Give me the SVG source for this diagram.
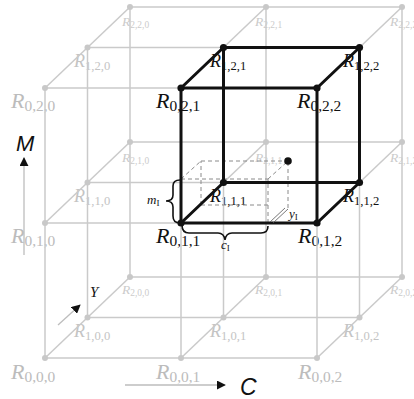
<svg xmlns="http://www.w3.org/2000/svg" width="414" height="399" viewBox="0 0 414 399">
<style>
text{font-family:"Liberation Serif","Times New Roman",serif;font-style:italic}
tspan.s{font-style:normal;font-size:0.7em}
.L0{font-size:22px}.L1{font-size:18px}.L2{font-size:13.5px}
.g0{fill:#bcbcbc}.g1{fill:#c4c4c4}.g2{fill:#cbcbcb}.k{fill:#111}
.grid line{stroke:#cacaca;stroke-width:1.5}
.gd{fill:#c8c8c8}
.blk line{stroke:#111;stroke-width:3;stroke-linecap:round}
.bd{fill:#111}
.dash line{stroke:#8a8a8a;stroke-width:1;stroke-dasharray:4 3}
.brace{fill:none;stroke:#111;stroke-width:1.6}
.ax{stroke:#bdbdbd;stroke-width:1.3}
.sans{font-family:"Liberation Sans",Arial,sans-serif}
</style>
<defs>
<marker id="ah" viewBox="0 0 10 10" refX="9" refY="5" markerWidth="9" markerHeight="9" markerUnits="userSpaceOnUse" orient="auto"><path d="M0,0 L10,5 L0,10 z" fill="#111"/></marker>
</defs>

<!-- labels -->
<g id="labels">
<g id="n000"><text class="L0 g0" x="11" y="379">R<tspan class="s" dy="3">0,0,0</tspan></text></g>
<g id="n001"><text class="L0 g0" x="156" y="379">R<tspan class="s" dy="3">0,0,1</tspan></text></g>
<g id="n002"><text class="L0 g0" x="298" y="379">R<tspan class="s" dy="3">0,0,2</tspan></text></g>
<g id="n010"><text class="L0 g0" x="11" y="243">R<tspan class="s" dy="3">0,1,0</tspan></text></g>
<g id="n011"><text class="L0 k" x="156" y="243">R<tspan class="s" dy="3">0,1,1</tspan></text></g>
<g id="n012"><text class="L0 k" x="298" y="243">R<tspan class="s" dy="3">0,1,2</tspan></text></g>
<g id="n020"><text class="L0 g0" x="11" y="108">R<tspan class="s" dy="3">0,2,0</tspan></text></g>
<g id="n021"><text class="L0 k" x="156" y="108">R<tspan class="s" dy="3">0,2,1</tspan></text></g>
<g id="n022"><text class="L0 k" x="297" y="108">R<tspan class="s" dy="3">0,2,2</tspan></text></g>

<g id="n100"><text class="L1 g1" x="74" y="337">R<tspan class="s" dy="2.5">1,0,0</tspan></text></g>
<g id="n101"><text class="L1 g1" x="210" y="337">R<tspan class="s" dy="2.5">1,0,1</tspan></text></g>
<g id="n102"><text class="L1 g1" x="343" y="337">R<tspan class="s" dy="2.5">1,0,2</tspan></text></g>
<g id="n110"><text class="L1 g1" x="74" y="202">R<tspan class="s" dy="2.5">1,1,0</tspan></text></g>
<g id="n111"><text class="L1 k" x="210" y="202">R<tspan class="s" dy="2.5">1,1,1</tspan></text></g>
<g id="n112"><text class="L1 k" x="343" y="202">R<tspan class="s" dy="2.5">1,1,2</tspan></text></g>
<g id="n120"><text class="L1 g1" x="74" y="67">R<tspan class="s" dy="2.5">1,2,0</tspan></text></g>
<g id="n121"><text class="L1 k" x="210" y="67">R<tspan class="s" dy="2.5">1,2,1</tspan></text></g>
<g id="n122"><text class="L1 k" x="343" y="67">R<tspan class="s" dy="2.5">1,2,2</tspan></text></g>

<g id="n200"><text class="L2 g2" x="122" y="294">R<tspan class="s" dy="2">2,0,0</tspan></text></g>
<g id="n201"><text class="L2 g2" x="255" y="294">R<tspan class="s" dy="2">2,0,1</tspan></text></g>
<g id="n202"><text class="L2 g2" x="390" y="294">R<tspan class="s" dy="2">2,0,2</tspan></text></g>
<g id="n210"><text class="L2 g2" x="122" y="162">R<tspan class="s" dy="2">2,1,0</tspan></text></g>
<g id="n211"><text class="L2 g2" x="255" y="162">R<tspan class="s" dy="2">2,1,1</tspan></text></g>
<g id="n212"><text class="L2 g2" x="390" y="162">R<tspan class="s" dy="2">2,1,2</tspan></text></g>
<g id="n220"><text class="L2 g2" x="122" y="26">R<tspan class="s" dy="2">2,2,0</tspan></text></g>
<g id="n221"><text class="L2 g2" x="255" y="26">R<tspan class="s" dy="2">2,2,1</tspan></text></g>
<g id="n222"><text class="L2 g2" x="390" y="26">R<tspan class="s" dy="2">2,2,2</tspan></text></g>
</g>

<!-- gray grid -->
<g id="connectors">
<g class="grid">
<line x1="45" y1="358" x2="317" y2="358"/><line x1="45" y1="223" x2="317" y2="223"/><line x1="45" y1="88" x2="317" y2="88"/>
<line x1="87.5" y1="317.5" x2="359.5" y2="317.5"/><line x1="87.5" y1="182.5" x2="359.5" y2="182.5"/><line x1="87.5" y1="47.5" x2="359.5" y2="47.5"/>
<line x1="130" y1="277" x2="402" y2="277"/><line x1="130" y1="142" x2="402" y2="142"/><line x1="130" y1="7" x2="402" y2="7"/>
<line x1="45" y1="88" x2="45" y2="358"/><line x1="181" y1="88" x2="181" y2="358"/><line x1="317" y1="88" x2="317" y2="358"/>
<line x1="87.5" y1="47.5" x2="87.5" y2="317.5"/><line x1="223.5" y1="47.5" x2="223.5" y2="317.5"/><line x1="359.5" y1="47.5" x2="359.5" y2="317.5"/>
<line x1="130" y1="7" x2="130" y2="277"/><line x1="266" y1="7" x2="266" y2="277"/><line x1="402" y1="7" x2="402" y2="277"/>
<line x1="45" y1="358" x2="130" y2="277"/><line x1="181" y1="358" x2="266" y2="277"/><line x1="317" y1="358" x2="402" y2="277"/>
<line x1="45" y1="223" x2="130" y2="142"/><line x1="181" y1="223" x2="266" y2="142"/><line x1="317" y1="223" x2="402" y2="142"/>
<line x1="45" y1="88" x2="130" y2="7"/><line x1="181" y1="88" x2="266" y2="7"/><line x1="317" y1="88" x2="402" y2="7"/>
</g>
<g class="gd">
<circle cx="45" cy="358" r="3"/><circle cx="181" cy="358" r="3"/><circle cx="317" cy="358" r="3"/>
<circle cx="45" cy="223" r="3"/><circle cx="45" cy="88" r="3"/>
<circle cx="87.5" cy="317.5" r="3"/><circle cx="223.5" cy="317.5" r="3"/><circle cx="359.5" cy="317.5" r="3"/>
<circle cx="87.5" cy="182.5" r="3"/><circle cx="87.5" cy="47.5" r="3"/>
<circle cx="130" cy="277" r="3"/><circle cx="266" cy="277" r="3"/><circle cx="402" cy="277" r="3"/>
<circle cx="130" cy="142" r="3"/><circle cx="266" cy="142" r="3"/><circle cx="402" cy="142" r="3"/>
<circle cx="130" cy="7" r="3"/><circle cx="266" cy="7" r="3"/><circle cx="402" cy="7" r="3"/>
</g>

<!-- dashed inner box -->
<g class="dash">
<line x1="181" y1="179" x2="268" y2="179"/>
<line x1="201" y1="161" x2="288" y2="161"/>
<line x1="181" y1="179" x2="201" y2="161"/>
<line x1="268" y1="179" x2="288" y2="161"/>
<line x1="268" y1="223" x2="268" y2="179"/>
<line x1="288" y1="208" x2="288" y2="161"/>
<line x1="201" y1="205" x2="270" y2="205"/>
<line x1="201" y1="205" x2="201" y2="161"/>
</g>

<!-- black cube -->
<g class="blk">
<line x1="181" y1="223" x2="317" y2="223"/><line x1="181" y1="88" x2="317" y2="88"/>
<line x1="223.5" y1="182.5" x2="359.5" y2="182.5"/><line x1="223.5" y1="47.5" x2="359.5" y2="47.5"/>
<line x1="181" y1="88" x2="181" y2="223"/><line x1="317" y1="88" x2="317" y2="223"/>
<line x1="223.5" y1="47.5" x2="223.5" y2="182.5"/><line x1="359.5" y1="47.5" x2="359.5" y2="182.5"/>
<line x1="181" y1="223" x2="223.5" y2="182.5"/><line x1="317" y1="223" x2="359.5" y2="182.5"/>
<line x1="181" y1="88" x2="223.5" y2="47.5"/><line x1="317" y1="88" x2="359.5" y2="47.5"/>
</g>
<g class="bd">
<circle cx="181" cy="223" r="3.6"/><circle cx="317" cy="223" r="3.6"/><circle cx="181" cy="88" r="3.6"/><circle cx="317" cy="88" r="3.6"/>
<circle cx="223.5" cy="182.5" r="3.6"/><circle cx="359.5" cy="182.5" r="3.6"/><circle cx="223.5" cy="47.5" r="3.6"/><circle cx="359.5" cy="47.5" r="3.6"/>
<circle cx="288" cy="161" r="3.8"/>
</g>

<!-- braces -->
<path class="brace" d="M180,180 Q173,180 173,186 L173,195 Q173,201 166,201 Q173,201 173,207 L173,216 Q173,223 180,223"/>
<path class="brace" d="M182,225 Q182,233 189,233 L218,233 Q224,233 225,240 Q226,233 232,233 L261,233 Q268,233 268,226"/>
<path d="M270,222 L285,208 M273,223 L288,209" fill="none" stroke="#555" stroke-width="0.8"/>

<!-- axes -->
<line class="ax" x1="24" y1="255" x2="24" y2="158" marker-end="url(#ah)"/>
<line class="ax" x1="125" y1="385" x2="225" y2="385" marker-end="url(#ah)"/>
<line class="ax" x1="58" y1="325" x2="80" y2="305" marker-end="url(#ah)"/>
</g>

<g id="axislabels">
<text class="sans k" x="16" y="151" font-size="22">M</text>
<text class="sans k" x="240" y="395" font-size="23" font-style="normal">C</text>
<text class="k" x="90" y="297" font-size="15">Y</text>
<text class="k" x="147" y="204" font-size="13">m<tspan class="s" dy="2">I</tspan></text>
<text class="k" x="221" y="249" font-size="13">c<tspan class="s" dy="2">I</tspan></text>
<text class="k" x="289" y="218" font-size="13">y<tspan class="s" dy="2">I</tspan></text>
</g>
</svg>
